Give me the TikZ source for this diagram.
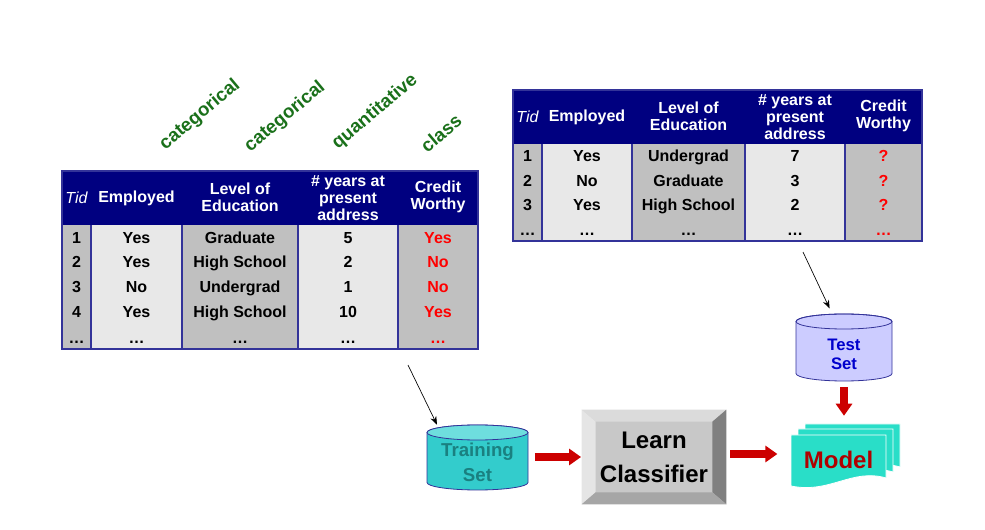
\documentclass[tikz,border=0pt]{standalone}
\usepackage{fontspec}
\setmainfont{Liberation Sans}
\usetikzlibrary{arrows.meta,calc}
\definecolor{hdrnavy}{RGB}{0,0,128}
\definecolor{gridblue}{RGB}{51,51,153}
\definecolor{cellgray}{RGB}{192,192,192}
\definecolor{celllight}{RGB}{232,232,232}
\definecolor{labgreen}{RGB}{26,112,26}
\definecolor{flowred}{RGB}{204,0,0}
\definecolor{traincyan}{RGB}{51,204,204}
\definecolor{traintop}{RGB}{110,222,222}
\definecolor{traintext}{RGB}{26,128,128}
\definecolor{testlav}{RGB}{204,204,255}
\definecolor{testblue}{RGB}{0,0,204}
\definecolor{modelteal}{RGB}{41,222,200}
\definecolor{modeltext}{RGB}{176,0,0}
\definecolor{bevelface}{RGB}{200,200,200}

\begin{document}
\begin{tikzpicture}[
  x=0.75pt, y=-0.75pt,
  >={Stealth[length=2.2mm]},
  every node/.style={font=\bfseries\fontsize{12}{12.8}\selectfont, inner sep=0pt},
  hdr/.style={text=white, align=center},
  tidhdr/.style={hdr, font=\itshape\fontsize{12}{12.8}\selectfont},
  cell/.style={text=black, text height=10pt, text depth=1.5pt},
  cwcell/.style={cell, text=red},
  kind/.style={text=labgreen, rotate=40, font=\bfseries\fontsize{14}{16}\selectfont},
  gridln/.style={draw=gridblue, line width=0.8pt},
  pointer/.style={->, black, line width=0.5pt},
  flow/.style={-{Triangle[length=9pt, width=12pt]}, draw=flowred, line width=5.5pt},
]
\useasboundingbox (0,0) rectangle (985,530);

% ---- attribute kinds above the training table ----
\node[kind] (kind-emp) at (200,115) {categorical};
\node[kind] (kind-edu) at (285,117) {categorical};
\node[kind] (kind-yrs) at (375,112) {quantitative};
\node[kind] (kind-cw)  at (441,133) {class};

% ---- training table: shading and grid ----
\fill[cellgray]  (62,225)  rectangle (91,349);
\fill[celllight] (91,225)  rectangle (182,349);
\fill[cellgray]  (182,225) rectangle (298,349);
\fill[celllight] (298,225) rectangle (398,349);
\fill[cellgray]  (398,225) rectangle (478,349);
\fill[hdrnavy]   (62,171)  rectangle (478,225);
\draw[gridln] (62,171) rectangle (478,349);
\foreach \gx in {91,182,298,398}
  \draw[gridln] (\gx,225) -- (\gx,349);

% ---- training table: header ----
\node[tidhdr] (trn-h-tid) at (76.5,198) {Tid};
\node[hdr]    (trn-h-emp) at (136.5,198) {Employed};
\node[hdr]    (trn-h-edu) at (240,197) {Level of\\Education};
\node[hdr]    (trn-h-yrs) at (348,198) {\# years at\\present\\address};
\node[hdr]    (trn-h-cw)  at (438,197) {Credit\\Worthy};

% ---- training table: records ----
\foreach \emp/\edu/\yrs/\cw [count=\i] in {Yes/Graduate/5/Yes, Yes/High School/2/No, No/Undergrad/1/No, Yes/High School/10/Yes}{
  \node[cell]   (trn-\i-tid) at (76.5, 212.6+24.8*\i) {\i};
  \node[cell]   (trn-\i-emp) at (136.5,212.6+24.8*\i) {\emp};
  \node[cell]   (trn-\i-edu) at (240,  212.6+24.8*\i) {\edu};
  \node[cell]   (trn-\i-yrs) at (348,  212.6+24.8*\i) {\yrs};
  \node[cwcell] (trn-\i-cw)  at (438,  212.6+24.8*\i) {\cw};
}
\node[cell]   (trn-5-tid) at (76.5,337.6)  {\ldots};
\node[cell]   (trn-5-emp) at (136.5,337.6) {\ldots};
\node[cell]   (trn-5-edu) at (240,337.6)   {\ldots};
\node[cell]   (trn-5-yrs) at (348,337.6)   {\ldots};
\node[cwcell] (trn-5-cw)  at (438,337.6)   {\ldots};

% ---- test table: shading and grid ----
\fill[cellgray]  (513,144) rectangle (542,241);
\fill[celllight] (542,144) rectangle (632,241);
\fill[cellgray]  (632,144) rectangle (745,241);
\fill[celllight] (745,144) rectangle (845,241);
\fill[cellgray]  (845,144) rectangle (922,241);
\fill[hdrnavy]   (513,90)  rectangle (922,144);
\draw[gridln] (513,90) rectangle (922,241);
\foreach \gx in {542,632,745,845}
  \draw[gridln] (\gx,144) -- (\gx,241);

% ---- test table: header ----
\node[tidhdr] (tst-h-tid) at (527.5,117) {Tid};
\node[hdr]    (tst-h-emp) at (587,117) {Employed};
\node[hdr]    (tst-h-edu) at (688.5,116) {Level of\\Education};
\node[hdr]    (tst-h-yrs) at (795,117) {\# years at\\present\\address};
\node[hdr]    (tst-h-cw)  at (883.5,116) {Credit\\Worthy};

% ---- test table: records ----
\foreach \emp/\edu/\yrs [count=\i] in {Yes/Undergrad/7, No/Graduate/3, Yes/High School/2}{
  \node[cell]   (tst-\i-tid) at (527.5,131.9+24.25*\i) {\i};
  \node[cell]   (tst-\i-emp) at (587,  131.9+24.25*\i) {\emp};
  \node[cell]   (tst-\i-edu) at (688.5,131.9+24.25*\i) {\edu};
  \node[cell]   (tst-\i-yrs) at (795,  131.9+24.25*\i) {\yrs};
  \node[cwcell] (tst-\i-cw)  at (883.5,131.9+24.25*\i) {?};
}
\node[cell]   (tst-4-tid) at (527.5,229.9) {\ldots};
\node[cell]   (tst-4-emp) at (587,229.9)   {\ldots};
\node[cell]   (tst-4-edu) at (688.5,229.9) {\ldots};
\node[cell]   (tst-4-yrs) at (795,229.9)   {\ldots};
\node[cwcell] (tst-4-cw)  at (883.5,229.9) {\ldots};

% ---- training set cylinder ----
\filldraw[fill=traincyan, draw=gridblue, line width=0.6pt]
  (427,432.5) -- (427,482.5) arc[start angle=180, end angle=0, x radius=50.5, y radius=7.5]
  -- (528,432.5) arc[start angle=0, end angle=-180, x radius=50.5, y radius=7.5] -- cycle;
\filldraw[fill=traintop, draw=gridblue, line width=0.6pt] (477.5,432.5) ellipse[x radius=50.5, y radius=7.5];
\node[text=traintext, align=center, font=\bfseries\fontsize{14}{19}\selectfont,
  minimum width=75.75pt, minimum height=56.25pt] (train) at (477.5,462.5) {Training\\Set};

% ---- test set cylinder ----
\filldraw[fill=testlav, draw=gridblue, line width=0.6pt]
  (796,321.5) -- (796,373.5) arc[start angle=180, end angle=0, x radius=48, y radius=7.5]
  -- (892,321.5) arc[start angle=0, end angle=-180, x radius=48, y radius=7.5] -- cycle;
\draw[gridblue, line width=0.6pt] (844,321.5) ellipse[x radius=48, y radius=7.5];
\node[text=testblue, align=center, font=\bfseries\fontsize{12.5}{14.5}\selectfont,
  minimum width=72pt, minimum height=48.75pt] (test) at (844,354.5) {Test\\Set};

% ---- learn classifier button ----
\node[fill=bevelface, align=center, font=\bfseries\fontsize{18}{25.5}\selectfont,
  minimum width=108pt, minimum height=70.5pt] (learn) at (654,457) {Learn\\Classifier};
\fill[black!14] (learn.north west) -- (learn.north east) -- ($(learn.north east)+(-14,12)$) -- ($(learn.north west)+(14,12)$) -- cycle;
\fill[black!10] (learn.north west) -- ($(learn.north west)+(14,12)$) -- ($(learn.south west)+(14,-12)$) -- (learn.south west) -- cycle;
\fill[black!50] (learn.north east) -- (learn.south east) -- ($(learn.south east)+(-14,-12)$) -- ($(learn.north east)+(-14,12)$) -- cycle;
\fill[black!35] (learn.south west) -- (learn.south east) -- ($(learn.south east)+(-14,-12)$) -- ($(learn.south west)+(14,-12)$) -- cycle;

% ---- model: stacked documents ----
\foreach \dx/\dy in {14/-11, 7/-6, 0/0}
  \filldraw[fill=modelteal, draw=white, line width=0.6pt, shift={(\dx,\dy)}]
    (791,435) -- (886,435) -- (886,478) .. controls (852,468) and (830,494) .. (791,486) -- cycle;
\node[text=modeltext, font=\bfseries\fontsize{18}{20}\selectfont,
  minimum width=71.25pt, minimum height=39pt] (model) at (838.5,460) {Model};

% ---- connectors ----
\coordinate (trainsrc) at (408,365);
\coordinate (testsrc)  at (803,252);
\draw[pointer] (trainsrc) -- (train.137);
\draw[pointer, shorten >=11pt] (testsrc) -- (test.104.5);
\draw[flow, shorten <=5pt, shorten >=0.5pt] (train.east |- learn) -- (learn.west);
\draw[flow, shorten <=3pt, shorten >=10pt] ($(learn.east)+(0,-3)$) -- ($(learn.east -| model.west)+(0,-3)$);
\draw[flow] (test.south) -- ($(test.south |- model.north)+(0,-18)$);

\end{tikzpicture}
\end{document}
